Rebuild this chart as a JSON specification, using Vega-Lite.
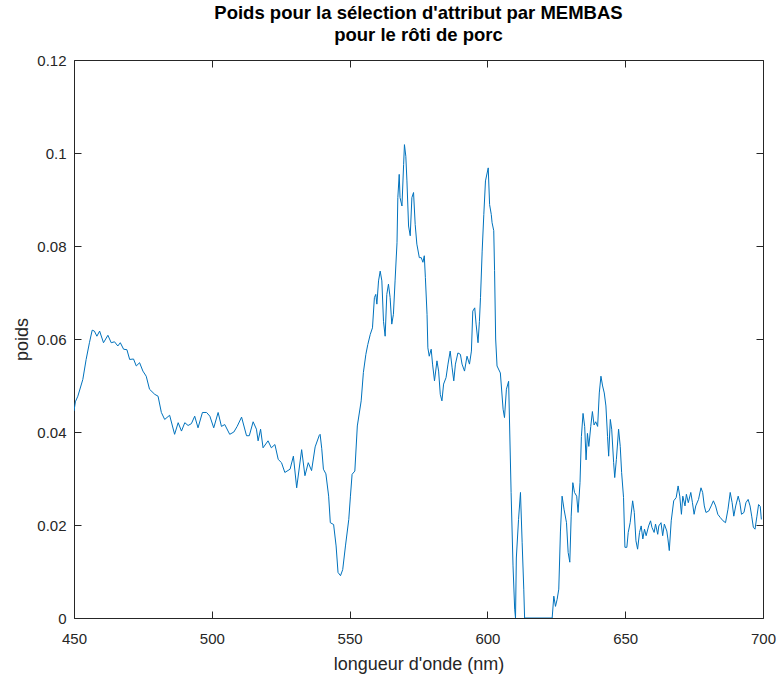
{
  "$schema": "https://vega.github.io/schema/vega-lite/v6.json",
  "width": 689,
  "height": 558,
  "autosize": "none",
  "padding": {"left": 74, "top": 60, "right": 16, "bottom": 59},
  "background": "white",
  "config": {
    "font": "Liberation Sans",
    "view": {"stroke": "#262626", "strokeWidth": 1},
    "axis": {
      "grid": false,
      "domain": false,
      "tickColor": "#262626",
      "labelColor": "#262626",
      "titleColor": "#262626",
      "labelFont": "Liberation Sans",
      "titleFont": "Liberation Sans",
      "labelFontSize": 15,
      "titleFontSize": 18,
      "titleFontWeight": "normal"
    }
  },
  "title": {
    "text": ["Poids pour la sélection d'attribut par MEMBAS", "pour le rôti de porc"],
    "fontSize": 18.5,
    "fontWeight": "bold",
    "color": "#000000",
    "font": "Liberation Sans",
    "anchor": "middle",
    "offset": 9,
    "lineHeight": 22
  },
  "data": {
    "values": [
      {"nm": 450.0, "w": 0.0445}, {"nm": 450.5, "w": 0.0465}, {"nm": 451.4, "w": 0.0477}, {"nm": 453.2, "w": 0.0513},
      {"nm": 454.4, "w": 0.0556}, {"nm": 455.6, "w": 0.0592}, {"nm": 456.6, "w": 0.0619}, {"nm": 457.4, "w": 0.0617},
      {"nm": 458.3, "w": 0.0606}, {"nm": 459.3, "w": 0.0617}, {"nm": 460.7, "w": 0.0592}, {"nm": 462.3, "w": 0.0608},
      {"nm": 463.5, "w": 0.0592}, {"nm": 464.7, "w": 0.0594}, {"nm": 465.9, "w": 0.0585}, {"nm": 466.8, "w": 0.0592},
      {"nm": 468.0, "w": 0.0578}, {"nm": 469.2, "w": 0.0577}, {"nm": 470.2, "w": 0.0556}, {"nm": 471.6, "w": 0.0557},
      {"nm": 472.6, "w": 0.0542}, {"nm": 473.8, "w": 0.0549}, {"nm": 475.0, "w": 0.0531}, {"nm": 476.2, "w": 0.052},
      {"nm": 477.4, "w": 0.0492}, {"nm": 479.3, "w": 0.0481}, {"nm": 480.5, "w": 0.0477}, {"nm": 481.7, "w": 0.0442},
      {"nm": 482.9, "w": 0.0427}, {"nm": 484.7, "w": 0.0436}, {"nm": 486.5, "w": 0.0395}, {"nm": 487.8, "w": 0.042},
      {"nm": 489.0, "w": 0.0402}, {"nm": 490.2, "w": 0.042}, {"nm": 491.4, "w": 0.0414}, {"nm": 492.6, "w": 0.0418},
      {"nm": 493.8, "w": 0.0434}, {"nm": 495.0, "w": 0.0409}, {"nm": 496.6, "w": 0.0442}, {"nm": 498.1, "w": 0.0442},
      {"nm": 499.3, "w": 0.0434}, {"nm": 500.7, "w": 0.0409}, {"nm": 502.3, "w": 0.0442}, {"nm": 503.5, "w": 0.0412},
      {"nm": 504.7, "w": 0.0416}, {"nm": 506.5, "w": 0.0395}, {"nm": 508.0, "w": 0.04}, {"nm": 509.2, "w": 0.0412},
      {"nm": 510.8, "w": 0.0432}, {"nm": 512.6, "w": 0.0392}, {"nm": 513.6, "w": 0.0392}, {"nm": 515.0, "w": 0.0422},
      {"nm": 516.2, "w": 0.0406}, {"nm": 516.8, "w": 0.0381}, {"nm": 517.7, "w": 0.0406}, {"nm": 518.6, "w": 0.0366},
      {"nm": 520.4, "w": 0.0381}, {"nm": 521.6, "w": 0.0366}, {"nm": 522.9, "w": 0.0373}, {"nm": 524.1, "w": 0.0341},
      {"nm": 525.3, "w": 0.0334}, {"nm": 526.5, "w": 0.0313}, {"nm": 528.4, "w": 0.032}, {"nm": 529.6, "w": 0.0348},
      {"nm": 530.8, "w": 0.028}, {"nm": 532.6, "w": 0.0362}, {"nm": 533.8, "w": 0.0306}, {"nm": 535.0, "w": 0.0334},
      {"nm": 536.2, "w": 0.0317}, {"nm": 537.5, "w": 0.0368}, {"nm": 539.0, "w": 0.0393}, {"nm": 539.3, "w": 0.0395},
      {"nm": 539.9, "w": 0.0364}, {"nm": 540.5, "w": 0.032}, {"nm": 541.4, "w": 0.031}, {"nm": 542.4, "w": 0.0262},
      {"nm": 543.0, "w": 0.0205}, {"nm": 544.2, "w": 0.0201}, {"nm": 545.1, "w": 0.0155}, {"nm": 545.8, "w": 0.0098},
      {"nm": 546.7, "w": 0.0091}, {"nm": 547.5, "w": 0.0104}, {"nm": 548.5, "w": 0.0155}, {"nm": 549.7, "w": 0.0212},
      {"nm": 550.3, "w": 0.0262}, {"nm": 550.9, "w": 0.0309}, {"nm": 551.9, "w": 0.0316}, {"nm": 552.8, "w": 0.0413},
      {"nm": 554.2, "w": 0.0467}, {"nm": 555.0, "w": 0.0528}, {"nm": 555.9, "w": 0.0567}, {"nm": 556.6, "w": 0.0588},
      {"nm": 557.5, "w": 0.061}, {"nm": 558.3, "w": 0.0624}, {"nm": 559.0, "w": 0.0689}, {"nm": 559.5, "w": 0.0696},
      {"nm": 559.9, "w": 0.0675}, {"nm": 560.5, "w": 0.0725}, {"nm": 561.1, "w": 0.0746}, {"nm": 561.7, "w": 0.0725},
      {"nm": 562.3, "w": 0.0638}, {"nm": 562.9, "w": 0.0606}, {"nm": 563.5, "w": 0.0696}, {"nm": 564.1, "w": 0.0718},
      {"nm": 564.7, "w": 0.0689}, {"nm": 565.3, "w": 0.0632}, {"nm": 565.9, "w": 0.0653}, {"nm": 566.5, "w": 0.0725},
      {"nm": 567.2, "w": 0.0807}, {"nm": 567.5, "w": 0.0904}, {"nm": 568.0, "w": 0.0954}, {"nm": 568.3, "w": 0.0904},
      {"nm": 569.0, "w": 0.0886}, {"nm": 569.6, "w": 0.0975}, {"nm": 569.9, "w": 0.1018}, {"nm": 570.4, "w": 0.0993},
      {"nm": 570.8, "w": 0.094}, {"nm": 571.4, "w": 0.0843}, {"nm": 572.0, "w": 0.0822}, {"nm": 572.6, "w": 0.0904},
      {"nm": 573.2, "w": 0.0915}, {"nm": 573.8, "w": 0.0846}, {"nm": 574.4, "w": 0.0804}, {"nm": 575.3, "w": 0.0775},
      {"nm": 576.0, "w": 0.0775}, {"nm": 576.6, "w": 0.0765}, {"nm": 577.1, "w": 0.0779}, {"nm": 577.5, "w": 0.0732},
      {"nm": 578.1, "w": 0.0653}, {"nm": 578.4, "w": 0.0581}, {"nm": 578.9, "w": 0.0563}, {"nm": 579.6, "w": 0.0578},
      {"nm": 580.1, "w": 0.0546}, {"nm": 580.8, "w": 0.051}, {"nm": 581.7, "w": 0.0553}, {"nm": 582.3, "w": 0.0531},
      {"nm": 582.9, "w": 0.0481}, {"nm": 583.5, "w": 0.0467}, {"nm": 584.1, "w": 0.0503}, {"nm": 585.0, "w": 0.0517},
      {"nm": 585.7, "w": 0.0546}, {"nm": 586.5, "w": 0.0574}, {"nm": 587.2, "w": 0.0538}, {"nm": 587.8, "w": 0.051},
      {"nm": 588.4, "w": 0.0546}, {"nm": 589.3, "w": 0.057}, {"nm": 590.2, "w": 0.0567}, {"nm": 590.8, "w": 0.0546},
      {"nm": 591.7, "w": 0.0531}, {"nm": 592.6, "w": 0.0563}, {"nm": 593.5, "w": 0.0546}, {"nm": 594.2, "w": 0.0574},
      {"nm": 594.7, "w": 0.066}, {"nm": 595.4, "w": 0.0667}, {"nm": 595.9, "w": 0.0632}, {"nm": 596.6, "w": 0.0592},
      {"nm": 597.1, "w": 0.0638}, {"nm": 597.5, "w": 0.0689}, {"nm": 598.1, "w": 0.0789}, {"nm": 598.7, "w": 0.0868},
      {"nm": 599.3, "w": 0.094}, {"nm": 600.3, "w": 0.0968}, {"nm": 600.8, "w": 0.0889}, {"nm": 601.4, "w": 0.0868},
      {"nm": 601.7, "w": 0.085}, {"nm": 602.3, "w": 0.0833}, {"nm": 602.6, "w": 0.0747}, {"nm": 603.0, "w": 0.06},
      {"nm": 603.5, "w": 0.0542}, {"nm": 604.7, "w": 0.0527}, {"nm": 605.7, "w": 0.0449}, {"nm": 606.2, "w": 0.0431},
      {"nm": 606.9, "w": 0.0492}, {"nm": 607.7, "w": 0.0509}, {"nm": 608.6, "w": 0.027}, {"nm": 609.3, "w": 0.0112},
      {"nm": 609.9, "w": 0.0019}, {"nm": 610.2, "w": 0.0}, {"nm": 610.5, "w": 0.0129}, {"nm": 611.3, "w": 0.0212},
      {"nm": 612.0, "w": 0.027}, {"nm": 612.6, "w": 0.0163}, {"nm": 613.2, "w": 0.0062}, {"nm": 613.5, "w": 0.0},
      {"nm": 623.5, "w": 0.0}, {"nm": 624.1, "w": 0.0047}, {"nm": 624.7, "w": 0.0025}, {"nm": 625.3, "w": 0.004},
      {"nm": 625.9, "w": 0.0062}, {"nm": 626.5, "w": 0.0185}, {"nm": 627.1, "w": 0.0262}, {"nm": 627.8, "w": 0.0234},
      {"nm": 628.7, "w": 0.0205}, {"nm": 629.3, "w": 0.0141}, {"nm": 629.9, "w": 0.012}, {"nm": 630.4, "w": 0.0219},
      {"nm": 631.0, "w": 0.0291}, {"nm": 631.6, "w": 0.027}, {"nm": 632.4, "w": 0.0262}, {"nm": 632.9, "w": 0.0227},
      {"nm": 633.6, "w": 0.0291}, {"nm": 634.1, "w": 0.039}, {"nm": 634.7, "w": 0.044}, {"nm": 635.3, "w": 0.0412},
      {"nm": 635.8, "w": 0.034}, {"nm": 636.3, "w": 0.0397}, {"nm": 636.8, "w": 0.0369}, {"nm": 637.5, "w": 0.0412},
      {"nm": 638.1, "w": 0.0444}, {"nm": 638.7, "w": 0.0415}, {"nm": 639.3, "w": 0.0422}, {"nm": 640.0, "w": 0.0412},
      {"nm": 640.6, "w": 0.0484}, {"nm": 641.2, "w": 0.052}, {"nm": 641.8, "w": 0.0499}, {"nm": 642.4, "w": 0.0484},
      {"nm": 643.0, "w": 0.0456}, {"nm": 643.6, "w": 0.039}, {"nm": 644.0, "w": 0.0348}, {"nm": 644.6, "w": 0.0427},
      {"nm": 645.1, "w": 0.0406}, {"nm": 645.8, "w": 0.0334}, {"nm": 646.2, "w": 0.0302}, {"nm": 646.8, "w": 0.0341},
      {"nm": 647.6, "w": 0.0406}, {"nm": 648.2, "w": 0.0369}, {"nm": 648.7, "w": 0.0313}, {"nm": 649.4, "w": 0.0259},
      {"nm": 649.9, "w": 0.0152}, {"nm": 650.6, "w": 0.0152}, {"nm": 651.1, "w": 0.0184}, {"nm": 651.8, "w": 0.0205},
      {"nm": 652.7, "w": 0.0252}, {"nm": 653.3, "w": 0.0227}, {"nm": 653.9, "w": 0.0166}, {"nm": 654.5, "w": 0.0148},
      {"nm": 655.2, "w": 0.0184}, {"nm": 655.8, "w": 0.0198}, {"nm": 656.4, "w": 0.017}, {"nm": 657.0, "w": 0.0191},
      {"nm": 657.6, "w": 0.0177}, {"nm": 658.5, "w": 0.0198}, {"nm": 659.2, "w": 0.0209}, {"nm": 659.7, "w": 0.0195},
      {"nm": 660.5, "w": 0.0184}, {"nm": 661.0, "w": 0.0202}, {"nm": 661.8, "w": 0.018}, {"nm": 662.2, "w": 0.0198},
      {"nm": 663.0, "w": 0.0205}, {"nm": 663.6, "w": 0.0177}, {"nm": 664.2, "w": 0.0202}, {"nm": 665.1, "w": 0.0187},
      {"nm": 665.5, "w": 0.017}, {"nm": 666.0, "w": 0.0145}, {"nm": 666.7, "w": 0.0209}, {"nm": 667.6, "w": 0.0252},
      {"nm": 668.5, "w": 0.0259}, {"nm": 669.2, "w": 0.0284}, {"nm": 669.8, "w": 0.0262}, {"nm": 670.4, "w": 0.0223},
      {"nm": 670.9, "w": 0.0262}, {"nm": 671.7, "w": 0.0241}, {"nm": 672.2, "w": 0.0266}, {"nm": 672.9, "w": 0.0248},
      {"nm": 673.8, "w": 0.027}, {"nm": 674.4, "w": 0.0248}, {"nm": 675.0, "w": 0.0223}, {"nm": 675.6, "w": 0.0241},
      {"nm": 676.6, "w": 0.0255}, {"nm": 677.5, "w": 0.028}, {"nm": 678.1, "w": 0.027}, {"nm": 678.7, "w": 0.0241},
      {"nm": 679.3, "w": 0.0227}, {"nm": 680.3, "w": 0.023}, {"nm": 681.2, "w": 0.0241}, {"nm": 682.0, "w": 0.0252},
      {"nm": 682.8, "w": 0.0241}, {"nm": 683.6, "w": 0.0223}, {"nm": 684.5, "w": 0.0216}, {"nm": 685.5, "w": 0.0209},
      {"nm": 686.4, "w": 0.0205}, {"nm": 687.3, "w": 0.0234}, {"nm": 688.1, "w": 0.027}, {"nm": 688.8, "w": 0.0248},
      {"nm": 689.4, "w": 0.0219}, {"nm": 690.1, "w": 0.0241}, {"nm": 691.0, "w": 0.0262}, {"nm": 691.6, "w": 0.0248},
      {"nm": 692.2, "w": 0.0223}, {"nm": 693.1, "w": 0.0227}, {"nm": 693.8, "w": 0.0248}, {"nm": 694.6, "w": 0.0255},
      {"nm": 695.3, "w": 0.0241}, {"nm": 695.9, "w": 0.0219}, {"nm": 696.5, "w": 0.0195}, {"nm": 697.1, "w": 0.0191},
      {"nm": 697.8, "w": 0.0219}, {"nm": 698.4, "w": 0.0244}, {"nm": 699.0, "w": 0.024}, {"nm": 699.4, "w": 0.0212}
    ]
  },
  "layer": [
    {
      "mark": {"type": "line", "color": "#0072BD", "strokeWidth": 1, "interpolate": "linear", "clip": true},
      "encoding": {
        "x": {
          "field": "nm", "type": "quantitative",
          "scale": {"domain": [450, 700], "nice": false, "zero": false},
          "axis": {"orient": "bottom", "values": [450, 500, 550, 600, 650, 700], "format": "d", "title": "longueur d'onde (nm)", "ticks": false, "labelPadding": 13, "titlePadding": 9, "labelFlush": false}
        },
        "y": {
          "field": "w", "type": "quantitative",
          "scale": {"domain": [0, 0.12], "nice": false, "zero": false},
          "axis": {"orient": "left", "values": [0, 0.02, 0.04, 0.06, 0.08, 0.1, 0.12], "format": ".2~f", "title": "poids", "ticks": false, "labelPadding": 8, "titlePadding": 5}
        }
      }
    },
    {
      "mark": {"type": "line", "opacity": 0},
      "encoding": {
        "x": {
          "field": "nm", "type": "quantitative",
          "axis": {"orient": "top", "offset": -558, "values": [450, 500, 550, 600, 650, 700], "labels": false, "title": null, "ticks": true, "tickSize": 7, "tickWidth": 1, "tickColor": "#262626"}
        },
        "y": {
          "field": "w", "type": "quantitative",
          "axis": {"orient": "right", "offset": -689, "values": [0, 0.02, 0.04, 0.06, 0.08, 0.1, 0.12], "labels": false, "title": null, "ticks": true, "tickSize": 7, "tickWidth": 1, "tickColor": "#262626"}
        }
      }
    },
    {
      "mark": {"type": "line", "opacity": 0},
      "encoding": {
        "x": {
          "field": "nm", "type": "quantitative",
          "axis": {"orient": "bottom", "offset": -558, "values": [450, 500, 550, 600, 650, 700], "labels": false, "title": null, "ticks": true, "tickSize": 7, "tickWidth": 1, "tickColor": "#262626"}
        },
        "y": {
          "field": "w", "type": "quantitative",
          "axis": {"orient": "left", "offset": -689, "values": [0, 0.02, 0.04, 0.06, 0.08, 0.1, 0.12], "labels": false, "title": null, "ticks": true, "tickSize": 7, "tickWidth": 1, "tickColor": "#262626"}
        }
      }
    }
  ],
  "resolve": {"axis": {"x": "independent", "y": "independent"}}
}
